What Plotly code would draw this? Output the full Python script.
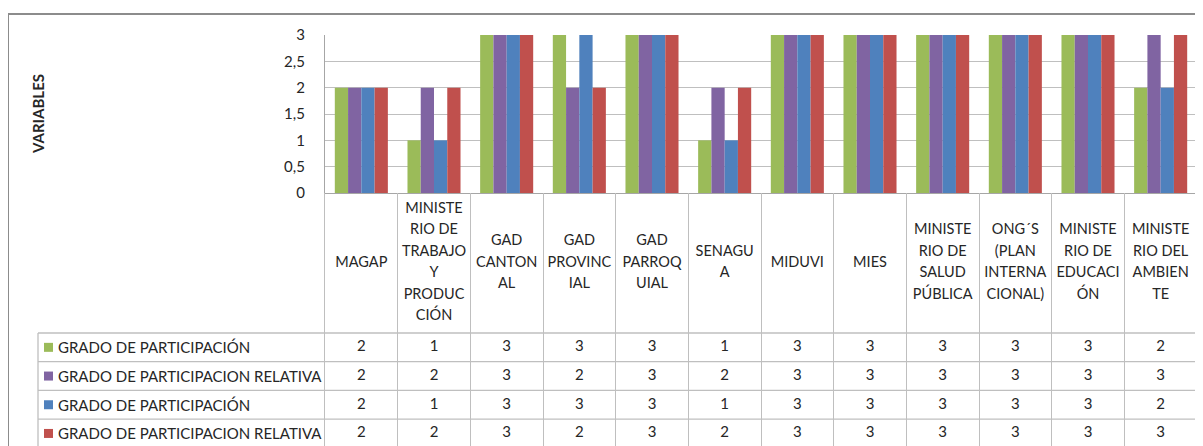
import plotly.graph_objects as go

# ---------------- data ----------------
categories = ["MAGAP", "MINISTERIO DE TRABAJO Y PRODUCCIÓN", "GAD CANTONAL", "GAD PROVINCIAL",
              "GAD PARROQUIAL", "SENAGUA", "MIDUVI", "MIES", "MINISTERIO DE SALUD PÚBLICA",
              "ONG´S (PLAN INTERNACIONAL)", "MINISTERIO DE EDUCACIÓN", "MINISTERIO DEL AMBIENTE"]
category_labels = ["MAGAP", "MINISTE<br>RIO DE<br>TRABAJO<br>Y<br>PRODUC<br>CIÓN", "GAD<br>CANTON<br>AL",
                   "GAD<br>PROVINC<br>IAL", "GAD<br>PARROQ<br>UIAL", "SENAGU<br>A", "MIDUVI", "MIES",
                   "MINISTE<br>RIO DE<br>SALUD<br>PÚBLICA", "ONG´S<br>(PLAN<br>INTERNA<br>CIONAL)",
                   "MINISTE<br>RIO DE<br>EDUCACI<br>ÓN", "MINISTE<br>RIO DEL<br>AMBIEN<br>TE"]
series_names = ["GRADO DE PARTICIPACIÓN", "GRADO DE PARTICIPACION RELATIVA",
                "GRADO DE PARTICIPACIÓN", "GRADO DE PARTICIPACION RELATIVA"]
grado_1 = [2, 1, 3, 3, 3, 1, 3, 3, 3, 3, 3, 2]
relativa_1 = [2, 2, 3, 2, 3, 2, 3, 3, 3, 3, 3, 3]
grado_2 = [2, 1, 3, 3, 3, 1, 3, 3, 3, 3, 3, 2]
relativa_2 = [2, 2, 3, 2, 3, 2, 3, 3, 3, 3, 3, 3]
y_ticks = [0, 0.5, 1, 1.5, 2, 2.5, 3]
y_title = "VARIABLES"

series_values = [grado_1, relativa_1, grado_2, relativa_2]
colors = ["#9BBB59", "#8064A2", "#4F81BD", "#C0504D"]

# ---------------- layout constants (screen pixels) ----------------
OFF = 8                          # default page margin of the html body
SW, SH = 1203, 446               # window size
W, H = SW - OFF, SH - OFF        # figure size
plot_left, plot_right, plot_top = 325, 1197, 35
axis_bottom_px = 193             # screen y of value 0
L = plot_left - OFF
R = SW - plot_right
T = plot_top - OFF
B = 0
plot_w = W - L - R
plot_h = H - T - B
cat_row_h = 140                  # height of category label row
row_h = 28.7                     # height of each data row
table_left_px = 38
line_spacing = 21.5
FONT = "Lato"
TXT = "#262626"
GRID = "#BFBFBF"

def px_x(p):
    return (p - OFF - L) / plot_w

def px_y(p):
    return (H - B - (p - OFF)) / plot_h

split = px_y(axis_bottom_px)
table_h = SH - axis_bottom_px    # y2 units == pixels below the axis

fig = go.Figure()

# bars
for name, vals, col in zip(series_names, series_values, colors):
    fig.add_trace(go.Bar(x=categories, y=vals, name=name, marker=dict(color=col, line=dict(width=0)),
                         xaxis="x", yaxis="y", showlegend=False))

# category label row (each wrapped line as text)
lx, ly, lt = [], [], []
for c, lab in zip(categories, category_labels):
    parts = lab.split("<br>")
    n = len(parts)
    for k, p in enumerate(parts):
        lx.append(c)
        ly.append(cat_row_h / 2 + (k - (n - 1) / 2) * line_spacing)
        lt.append(p)
fig.add_trace(go.Scatter(x=lx, y=ly, text=lt, mode="text", xaxis="x2", yaxis="y2",
                         textfont=dict(family=FONT, size=14.5, color=TXT), showlegend=False,
                         hoverinfo="skip"))

# data table rows
for k, vals in enumerate(series_values):
    yc = cat_row_h + row_h * (k + 0.5)
    fig.add_trace(go.Scatter(x=categories, y=[yc] * len(categories), text=[str(v) for v in vals],
                             mode="text", xaxis="x2", yaxis="y2",
                             textfont=dict(family=FONT, size=15, color=TXT), showlegend=False,
                             hoverinfo="skip"))

shapes = []
annotations = []
# horizontal table lines
for k in range(len(series_values) + 1):
    yp = axis_bottom_px + cat_row_h + row_h * k
    shapes.append(dict(type="line", xref="paper", yref="paper", x0=px_x(table_left_px), x1=1,
                       y0=px_y(yp), y1=px_y(yp), line=dict(color=GRID, width=1.3), layer="above"))
# left border of legend column
shapes.append(dict(type="line", xref="paper", yref="paper", x0=px_x(table_left_px), x1=px_x(table_left_px),
                   y0=px_y(axis_bottom_px + cat_row_h), y1=px_y(SH + 20), line=dict(color=GRID, width=1.3)))
# legend keys & names
for k, (name, col) in enumerate(zip(series_names, colors)):
    yc = axis_bottom_px + cat_row_h + row_h * (k + 0.5)
    shapes.append(dict(type="rect", xref="paper", yref="paper", x0=px_x(44), x1=px_x(53),
                       y0=px_y(yc + 4.5), y1=px_y(yc - 4.5), fillcolor=col, line=dict(width=0)))
    annotations.append(dict(x=px_x(56), y=px_y(yc), xref="paper", yref="paper", text=name,
                            showarrow=False, xanchor="left", yanchor="middle",
                            font=dict(family=FONT, size=15, color=TXT)))
# outer chart border
shapes.append(dict(type="rect", xref="paper", yref="paper", x0=px_x(8), x1=px_x(SW + 20),
                   y0=px_y(SH + 20), y1=px_y(14), line=dict(color="#8C8C8C", width=2), layer="below"))
# axis title
annotations.append(dict(x=px_x(38), y=px_y(114), xref="paper", yref="paper", text=f"<b>{y_title}</b>",
                        textangle=-90, showarrow=False, xanchor="center", yanchor="middle",
                        font=dict(family=FONT, size=15, color=TXT)))

fig.update_layout(
    width=W, height=H,
    margin=dict(l=L, r=R, t=T, b=B, pad=0, autoexpand=False),
    paper_bgcolor="white", plot_bgcolor="white",
    separators=",.",
    barmode="group", bargap=0.27, bargroupgap=0,
    showlegend=False,
    font=dict(family=FONT, size=15, color=TXT),
    xaxis=dict(domain=[0, 1], anchor="y", type="category", categoryarray=categories,
               categoryorder="array", range=[-0.5, len(categories) - 0.5],
               showticklabels=False, showgrid=False, showline=True, linecolor="#A6A6A6",
               linewidth=1.3, ticks="", zeroline=False),
    yaxis=dict(domain=[split, 1], anchor="x", range=[0, 3], tickvals=y_ticks,
               showgrid=True, gridcolor=GRID, gridwidth=1.3, showline=True, linecolor="#A6A6A6",
               linewidth=1.3, ticks="", ticklabelstandoff=16,
               tickfont=dict(family=FONT, size=15, color=TXT), zeroline=False),
    xaxis2=dict(domain=[0, 1], anchor="y2", type="category", categoryarray=categories,
                categoryorder="array", range=[-0.5, len(categories) - 0.5],
                showticklabels=False, showgrid=True, gridcolor=GRID, gridwidth=1.3,
                tickson="boundaries", ticks="", showline=False, zeroline=False),
    yaxis2=dict(domain=[0, split], anchor="x2", range=[table_h, 0], autorange=False,
                showticklabels=False, showgrid=False, showline=True, mirror=True,
                linecolor=GRID, linewidth=1.3, ticks="", zeroline=False),
    shapes=shapes, annotations=annotations,
)

fig.write_html("out.html")
